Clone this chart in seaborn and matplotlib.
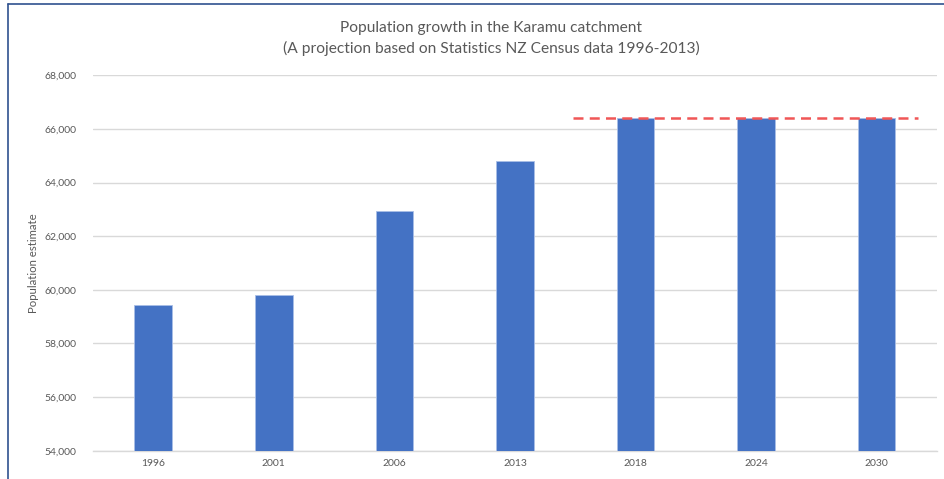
import pandas as pd
import matplotlib.pyplot as plt
import matplotlib.ticker as mticker
from matplotlib.lines import Line2D
import seaborn as sns

years = ['1996', '2001', '2006', '2013', '2018', '2024', '2030']
population = [59430, 59800, 62950, 64800, 66400, 66400, 66400]
plateau = 66400
y_ticks = [54000, 56000, 58000, 60000, 62000, 64000, 66000, 68000]

df = pd.DataFrame({'year': years, 'population': population})

sns.set_theme(style='white')
plt.rcParams['font.family'] = ['Lato', 'DejaVu Sans']

fig = plt.figure(figsize=(9.45, 4.79), dpi=100)
ax = fig.add_axes([0.0984, 0.0591, 0.893, 0.7837])

sns.barplot(data=df, x='year', y='population', color='#4472C4', width=0.313,
            saturation=1, edgecolor='#A9BEE6', linewidth=0.6, ax=ax, zorder=3)

# projection ceiling
ax.hlines(plateau, 3.48, 6.34, colors='#F05656', linestyles=(0, (4, 2.5)),
          linewidth=1.8, zorder=4)

ax.set_ylim(54000, 68000)
ax.set_xlim(-0.5, 6.5)
ax.set_yticks(y_ticks)
ax.yaxis.set_major_formatter(mticker.StrMethodFormatter('{x:,.0f}'))
ax.grid(axis='y', color='#D9D9D9', linewidth=1, zorder=0)
ax.set_axisbelow(True)
for s in ['top', 'right', 'left']:
    ax.spines[s].set_visible(False)
ax.spines['bottom'].set_color('#D9D9D9')
ax.spines['bottom'].set_linewidth(1)
ax.tick_params(axis='both', length=0, labelsize=7.5, labelcolor='#595959')
ax.tick_params(axis='y', pad=12)
ax.tick_params(axis='x', pad=6)
ax.set_xlabel('')
ax.set_ylabel('Population estimate', fontsize=8.2, color='#595959', labelpad=4)

fig.text(0.52, 0.941, 'Population growth in the Karamu catchment',
         ha='center', va='center', fontsize=11.2, color='#595959')
fig.text(0.52, 0.898, '(A projection based on Statistics NZ Census data 1996-2013)',
         ha='center', va='center', fontsize=11.2, color='#595959')

# outer frame (top and left edges)
fig.add_artist(Line2D([0.0085, 0.0085], [0, 0.992], transform=fig.transFigure,
                      color='#2F528F', linewidth=1.2))
fig.add_artist(Line2D([0.0085, 1], [0.992, 0.992], transform=fig.transFigure,
                      color='#2F528F', linewidth=1.2))

fig.savefig('out.png', dpi=100)
